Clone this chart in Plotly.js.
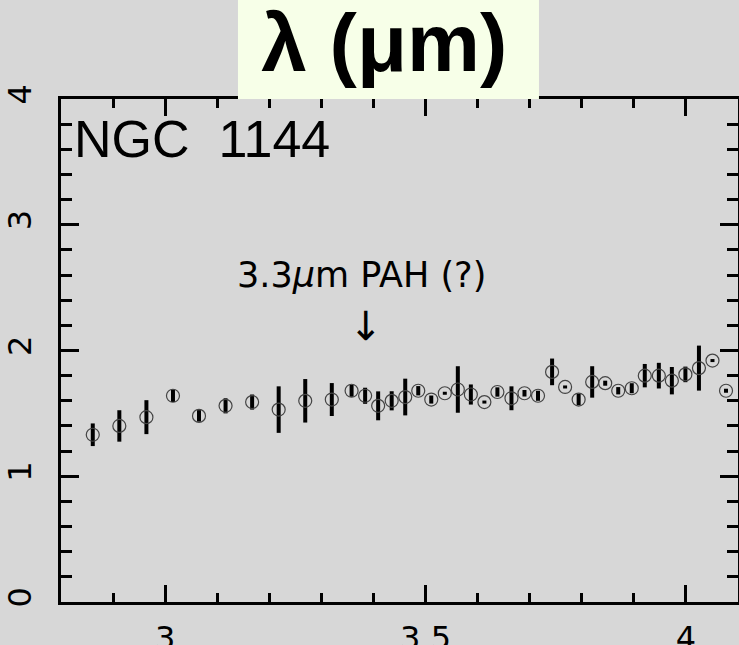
<!DOCTYPE html>
<html>
<head>
<meta charset="utf-8">
<script src="https://cdn.plot.ly/plotly-3.0.1.min.js"></script>
<style>
  html, body { margin: 0; padding: 0; background: #D7D7D7; }
  #chart { width: 739px; height: 645px; }
</style>
</head>
<body>
<div id="chart"></div>
<script>
// Wavelength (micron)
const wavelength = [2.861, 2.912, 2.964, 3.015, 3.065, 3.116, 3.167, 3.218, 3.269, 3.320,
  3.358, 3.384, 3.409, 3.435, 3.461, 3.486, 3.511, 3.537, 3.562, 3.587,
  3.613, 3.638, 3.665, 3.690, 3.716, 3.743, 3.768, 3.794, 3.820, 3.845,
  3.870, 3.896, 3.921, 3.948, 3.973, 3.999, 4.025, 4.051, 4.077];
// Flux
const flux = [1.33, 1.40, 1.47, 1.64, 1.48, 1.56, 1.59, 1.53, 1.60, 1.61,
  1.68, 1.64, 1.56, 1.60, 1.63, 1.68, 1.61, 1.66, 1.69, 1.65,
  1.59, 1.67, 1.62, 1.66, 1.64, 1.83, 1.71, 1.61, 1.75, 1.74,
  1.68, 1.70, 1.80, 1.80, 1.76, 1.81, 1.86, 1.92, 1.68];
// Error (half-length)
const fluxErr = [0.09, 0.125, 0.135, 0.05, 0.046, 0.06, 0.06, 0.185, 0.173, 0.131,
  0.048, 0.064, 0.115, 0.076, 0.146, 0.037, 0.032, 0.012, 0.185, 0.08,
  0.012, 0.037, 0.095, 0.026, 0.04, 0.106, 0.012, 0.046, 0.125, 0.02,
  0.029, 0.04, 0.093, 0.102, 0.109, 0.062, 0.179, 0.012, 0.016];

const xTickVals = [3, 3.5, 4];
const xTickText = ['3', '3.5', '4'];
const yTickVals = [0, 1, 2, 3, 4];
const yTickText = ['0', '1', '2', '3', '4'];

const titleText = 'λ (μm)';
const objectLabel = 'NGC\u00A0\u00A01144';
const featureLabel = '3.3<i>μ</i>m PAH (?)';

const bg = '#D7D7D7';

const trace = {
  type: 'scatter',
  mode: 'markers',
  x: wavelength,
  y: flux,
  marker: {
    symbol: 'circle-open',
    size: 13,
    color: '#444',
    line: { width: 1.2, color: '#444' }
  },
  error_y: {
    type: 'data',
    array: fluxErr,
    visible: true,
    color: '#000',
    thickness: 4,
    width: 0
  },
  hoverinfo: 'x+y'
};

const axisCommon = {
  showgrid: false,
  zeroline: false,
  showline: true,
  linecolor: '#000',
  linewidth: 3,
  mirror: 'allticks',
  ticks: 'inside',
  tickcolor: '#000',
  tickwidth: 3,
  tickfont: { family: 'DejaVu Sans', size: 32, color: '#000' }
};

const layout = {
  width: 739,
  height: 645,
  paper_bgcolor: bg,
  plot_bgcolor: bg,
  showlegend: false,
  margin: { l: 61, r: 1, t: 99, b: 43, pad: 0 },
  title: {
    text: '<b>' + titleText + '</b>',
    font: { family: 'Liberation Sans', size: 82, color: '#000' },
    xref: 'container', yref: 'container',
    x: 0.52, y: 0.934,
    xanchor: 'center', yanchor: 'middle'
  },
  xaxis: Object.assign({}, axisCommon, {
    range: [2.8, 4.1],
    tickmode: 'array',
    tickvals: xTickVals,
    ticktext: xTickText,
    ticklen: 17,
    ticklabelstandoff: 6,
    minor: { dtick: 0.1, ticks: 'inside', ticklen: 9, tickwidth: 3, tickcolor: '#000', showgrid: false }
  }),
  yaxis: Object.assign({}, axisCommon, {
    range: [0, 4],
    tickmode: 'array',
    tickvals: yTickVals,
    ticktext: yTickText,
    tickangle: -90,
    ticklen: 18,
    ticklabelstandoff: 14,
    minor: { dtick: 0.2, ticks: 'inside', ticklen: 11, tickwidth: 3, tickcolor: '#000', showgrid: false }
  }),
  shapes: [{
    type: 'rect',
    xref: 'paper', yref: 'paper',
    x0: 0.2614, x1: 0.706, y0: 1.0, y1: 1.25,
    fillcolor: '#F7FFE8',
    line: { width: 0 },
    layer: 'above'
  }],
  annotations: [
    {
      x: 2.822, y: 3.68, xref: 'x', yref: 'y',
      text: objectLabel, showarrow: false,
      xanchor: 'left', yanchor: 'middle',
      font: { family: 'Liberation Sans', size: 52, color: '#000' }
    },
    {
      x: 3.377, y: 2.60, xref: 'x', yref: 'y',
      text: featureLabel, showarrow: false,
      xanchor: 'center', yanchor: 'middle',
      font: { family: 'DejaVu Sans', size: 35, color: '#000' }
    },
    {
      x: 3.385, y: 2.195, xref: 'x', yref: 'y',
      text: '↓', showarrow: false,
      xanchor: 'center', yanchor: 'middle',
      font: { family: 'DejaVu Sans', size: 40, color: '#000' }
    }
  ]
};

Plotly.newPlot('chart', [trace], layout, { displayModeBar: false, staticPlot: true });
</script>
</body>
</html>
